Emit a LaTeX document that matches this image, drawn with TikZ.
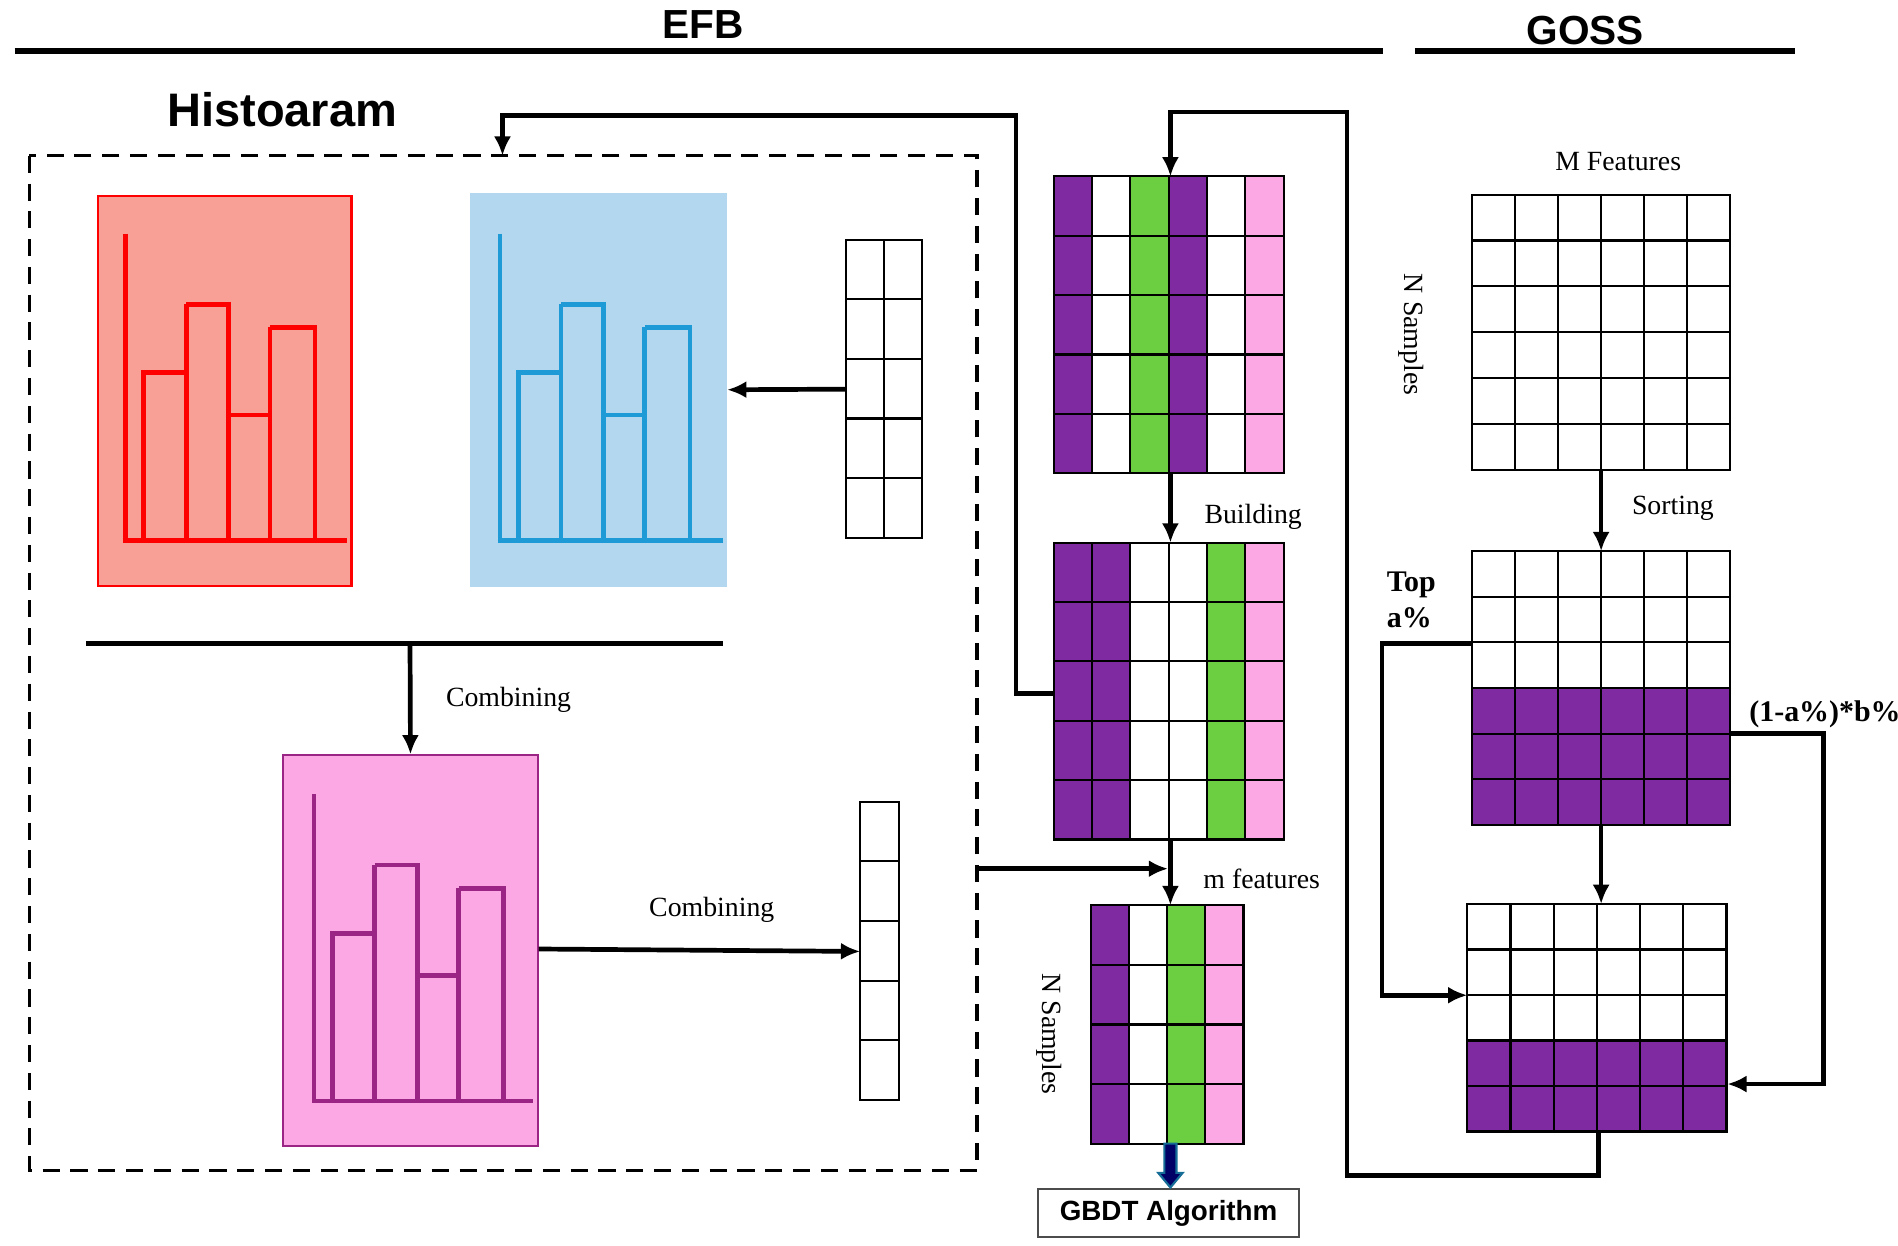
\documentclass[tikz,border=0pt]{standalone}
\usepackage{fontspec}
\setmainfont{Liberation Serif}
\newfontfamily\hsans{Liberation Sans}
\usetikzlibrary{arrows.meta}
\definecolor{pur}{HTML}{7F2AA0}
\definecolor{grn}{HTML}{6CCF42}
\definecolor{pnk}{HTML}{FBA8E4}
\definecolor{redf}{HTML}{F9A096}
\definecolor{bluef}{HTML}{B3D7EF}
\definecolor{bluel}{HTML}{1E9AD6}
\definecolor{pinkl}{HTML}{9B2585}
\begin{document}
\begin{tikzpicture}[x=0.02cm,y=-0.02cm,
  conn/.style={line width=2.2pt,-{Latex[length=9pt,width=8pt]}},
  plain/.style={line width=2.2pt},
  lab/.style={font=\fontsize{13}{15}\selectfont},
  head/.style={font=\hsans\bfseries\fontsize{19}{22}\selectfont},
  cell/.style={draw=black,line width=1pt}]
\useasboundingbox (0,0) rectangle (1560,1024);
% headers
\node[head] (efb) at (578,20) {EFB};
\draw[line width=2.5pt] (12,42) -- (1137,42);
\node[head] (goss) at (1303,25) {GOSS};
\draw[line width=2.5pt] (1163,42) -- (1475,42);
\node[head,font=\hsans\bfseries\fontsize{22}{26}\selectfont] (hist) at (232,90) {Histoaram};
\draw[dashed,line width=1.5pt,dash pattern=on 8pt off 5pt] (24,128) rectangle (803,962);
% chart macro
\newcommand{\mychart}[4]{% xoff yoff color
 \begin{scope}[shift={(#1,#2)}]
 \draw[#3,line width=2.2pt] (0,0) -- (0,252) -- (#4,252);
 \draw[#3,line width=2.2pt] (15,252) -- (15,114) -- (50,114) -- (50,252)
   (50,58) -- (85,58) -- (85,252) (50,114)--(50,58)
   (85,149) -- (119,149) -- (119,252)
   (119,77) -- (156,77) -- (156,252) (119,149)--(119,77);
 \end{scope}}
\node[draw=red,fill=redf,line width=1pt,minimum width=208*0.02cm,minimum height=321*0.02cm,anchor=north west,inner sep=0] (red) at (80,160) {};
\mychart{103}{192}{red}{182}
\node[fill=bluef,minimum width=211*0.02cm,minimum height=324*0.02cm,anchor=north west,inner sep=0] (blue) at (386,158) {};
\mychart{411}{192}{bluel}{183}
\node[draw=pinkl,fill=pnk,line width=1pt,minimum width=209*0.02cm,minimum height=321*0.02cm,anchor=north west,inner sep=0] (pink) at (232,620) {};
\mychart{258}{653}{pinkl}{180}
% small grids
\foreach \r in {0,...,4}{\foreach \c in {0,1}{
 \draw[cell] (695+\c*31.5,197+\r*49) rectangle ++(31.5,49);}}
\node[minimum width=63*0.02cm,minimum height=245*0.02cm,anchor=north west,inner sep=0] (g1) at (695,197) {};
\foreach \r in {0,...,4}{\draw[cell] (707,659+\r*49) rectangle ++(32,49);}
\node[minimum width=32*0.02cm,minimum height=245*0.02cm,anchor=north west,inner sep=0] (g2) at (707,659) {};
\draw[conn] (g1.west) -- (blue.east);
\draw[plain] (71,529) -- (594,529);
\coordinate (cb) at (337,529);
\draw[conn] (cb) -- (pink.north);
\node[lab] at (418,575) {Combining};
\draw[conn] (pink.east|-0,780) -- (g2.west|-0,782);
\node[lab] at (585,748) {Combining};
% EFB matrices
\newcommand{\colmat}[6]{% x y colw rowh nrows colorlist
 \foreach \col [count=\i from 0] in {#6}{
   \foreach \r in {1,...,#5}{
     \draw[cell,fill=\col] (#1+\i*#3,#2+\r*#4-#4) rectangle ++(#3,#4);}}}
\colmat{866}{145}{31.5}{48.8}{5}{pur,white,grn,pur,white,pnk}
\node[minimum width=189*0.02cm,minimum height=244*0.02cm,anchor=north west,inner sep=0] (m1) at (866,145) {};
\colmat{866}{446}{31.5}{48.8}{5}{pur,pur,white,white,grn,pnk}
\node[minimum width=189*0.02cm,minimum height=244*0.02cm,anchor=north west,inner sep=0] (m2) at (866,446) {};
\colmat{897}{744}{31.25}{49}{4}{pur,white,grn,pnk}
\node[minimum width=125*0.02cm,minimum height=196*0.02cm,anchor=north west,inner sep=0] (m3) at (897,744) {};
\draw[conn] (962,389) -- (962,446);
\node[lab] at (1030,425) {Building};
\draw[conn] (962,690) -- (962,744);
\draw[conn] (803,714) -- (960,714);
\node[lab] at (1037,722) {m features};
\node[lab,rotate=-90] at (862,850) {N Samples};
\draw[conn,rounded corners=0] (m2.west|-0,570) -- (835,570) -- (835,95) -- (413,95) -- (413,128);
% GBDT
\node[draw=black!70,line width=1pt,minimum width=215*0.02cm,minimum height=40*0.02cm,font=\hsans\bfseries\fontsize{13}{15}\selectfont] (gbdt) at (960.5,997) {GBDT Algorithm};
\draw[draw=bluel!70!black,fill=blue!40!black,line width=1pt] (957,940) -- (967,940) -- (967,964) -- (972,964) -- (962,976) -- (952,964) -- (957,964) -- cycle;
% GOSS
\node[lab] at (1330,133) {M Features};
\node[lab,rotate=-90] at (1160,275) {N Samples};
\foreach \r in {0,...,5}{\foreach \c in {0,...,5}{
 \draw[cell] (1210+\c*35.33,160+\r*37.67) rectangle ++(35.33,37.67);}}
\node[minimum width=212*0.02cm,minimum height=226*0.02cm,anchor=north west,inner sep=0] (ga) at (1210,160) {};
\foreach \r in {0,...,5}{\foreach \c in {0,...,5}{
 \pgfmathsetmacro\fc{\r>2?"pur":"white"}
 \draw[cell,fill=\fc] (1210+\c*35.33,453+\r*37.5) rectangle ++(35.33,37.5);}}
\node[minimum width=212*0.02cm,minimum height=225*0.02cm,anchor=north west,inner sep=0] (gb) at (1210,453) {};
\foreach \r in {0,...,4}{\foreach \c in {0,...,5}{
 \pgfmathsetmacro\fc{\r>2?"pur":"white"}
 \draw[cell,fill=\fc] (1206+\c*35.5,743+\r*37.4) rectangle ++(35.5,37.4);}}
\node[minimum width=213*0.02cm,minimum height=187*0.02cm,anchor=north west,inner sep=0] (gc) at (1206,743) {};
\draw[conn] (1316,386) -- (1316,453);
\node[lab] at (1375,418) {Sorting};
\draw[conn] (1316,678) -- (1316,743);
\node[lab,font=\bfseries\fontsize{14}{17}\selectfont,align=left] at (1160,493) {Top\\a\%};
\node[lab,font=\bfseries\fontsize{14}{17}\selectfont] at (1500,587) {(1-a\%)*b\%};
\draw[conn] (gb.west|-0,529) -- (1136,529) -- (1136,818) -- (gc.west|-0,818);
\draw[conn] (gb.east|-0,603) -- (1499,603) -- (1499,891) -- (gc.east|-0,891);
\draw[conn] (1314,930) -- (1314,966) -- (1107,966) -- (1107,92) -- (962,92) -- (m1.north-|962,0);
\end{tikzpicture}
\end{document}
